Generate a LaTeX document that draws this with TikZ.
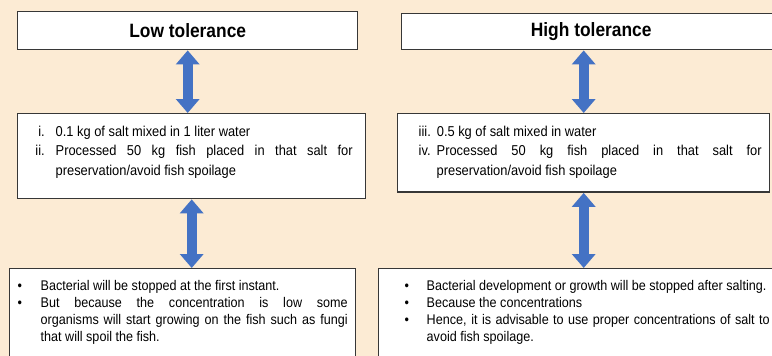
\documentclass[tikz,border=0pt]{standalone}
\usepackage{fontspec}
\setmainfont{Liberation Sans}[FakeStretch=0.9]
\usepackage{enumitem}
\usetikzlibrary{arrows.meta}
\definecolor{paperColor}{RGB}{252,235,212}
\definecolor{arrowColor}{RGB}{68,114,196}
\definecolor{frameColor}{RGB}{55,55,55}
\hyphenpenalty=10000
\exhyphenpenalty=10000
\tolerance=10000

\begin{document}
\begin{tikzpicture}[x=1pt,y=-1pt]

            \tikzstyle{titleBox} = [draw=frameColor, line width=1.4pt, fill=white, anchor=north west, inner sep=0pt, font=\fontsize{19.3}{22}\selectfont\bfseries];
            \tikzstyle{stepsBox} = [draw=frameColor, line width=1.4pt, fill=white, anchor=north west, inner xsep=8pt, inner ysep=3pt, align=justify, font=\fontsize{14.3}{19.5}\selectfont];
            \tikzstyle{resultBox} = [draw=frameColor, line width=1.4pt, fill=white, anchor=north west, inner xsep=8pt, inner ysep=5pt, align=justify, font=\fontsize{14}{17}\selectfont];
            \tikzstyle{linkArrow} = [arrowColor, line width=10pt, {Triangle[width=23pt,length=14pt]}-{Triangle[width=23pt,length=14pt]}];

            \clip (0,0) rectangle (772,356);
            \fill[paperColor] (0,0) rectangle (772,356);

            % low tolerance column
            \node[titleBox, minimum width=340pt, minimum height=38pt] (lowTitle) at (17,11) {Low tolerance};

            \node[stepsBox, text width=332pt] (lowSteps) at (17,113) {%
              \begin{enumerate}[nosep, label=\roman*., align=right, labelindent=0pt, labelwidth=19pt, labelsep=11pt, leftmargin=30pt, rightmargin=5pt]
                \item 0.1 kg of salt mixed in 1 liter water
                \item Processed 50 kg fish placed in that salt for preservation/avoid fish spoilage
              \end{enumerate}
              \par\vspace{17.5pt}\hrule height 0pt};

            \node[resultBox, text width=330pt] (lowResult) at (9,268) {%
              \begin{itemize}[nosep, label=\textbullet, align=left, labelindent=0pt, labelwidth=7pt, labelsep=16pt, leftmargin=23pt]
                \item Bacterial will be stopped at the first instant.
                \item But because the concentration is low some\linebreak organisms will start growing on the fish such as fungi that will spoil the fish.
              \end{itemize}
              \par\vspace{40pt}\hrule height 0pt};

            \draw[linkArrow] (lowTitle.south) -- (lowTitle.south |- lowSteps.north);
            \draw[linkArrow] (lowSteps.south) -- (lowSteps.south |- lowResult.north);

            % high tolerance column
            \node[titleBox, minimum width=379pt, minimum height=36pt] (highTitle) at (401,13) {High tolerance};

            \node[stepsBox, text width=356pt] (highSteps) at (397,113) {%
              \begin{enumerate}[nosep, start=3, label=\roman*., align=left, labelindent=13pt, labelwidth=12pt, labelsep=6pt, leftmargin=31pt]
                \item 0.5 kg of salt mixed in water
                \item Processed 50 kg fish placed in that salt for preservation/avoid fish spoilage
              \end{enumerate}
              \par\vspace{11pt}\hrule height 0pt};

            \node[resultBox, text width=383pt] (highResult) at (378,268) {%
              \begin{itemize}[nosep, label=\textbullet, align=left, labelindent=18pt, labelwidth=8pt, labelsep=14pt, leftmargin=40pt]
                \item Bacterial development or growth will be stopped after salting.
                \item Because the concentrations
                \item Hence, it is advisable to use proper concentrations of salt to\linebreak avoid fish spoilage.
              \end{itemize}
              \par\vspace{40pt}\hrule height 0pt};

            \draw[linkArrow] (highSteps.north |- highTitle.south) -- (highSteps.north);
            \draw[linkArrow] (highSteps.south) -- (highSteps.south |- highResult.north);
\end{tikzpicture}
\end{document}
